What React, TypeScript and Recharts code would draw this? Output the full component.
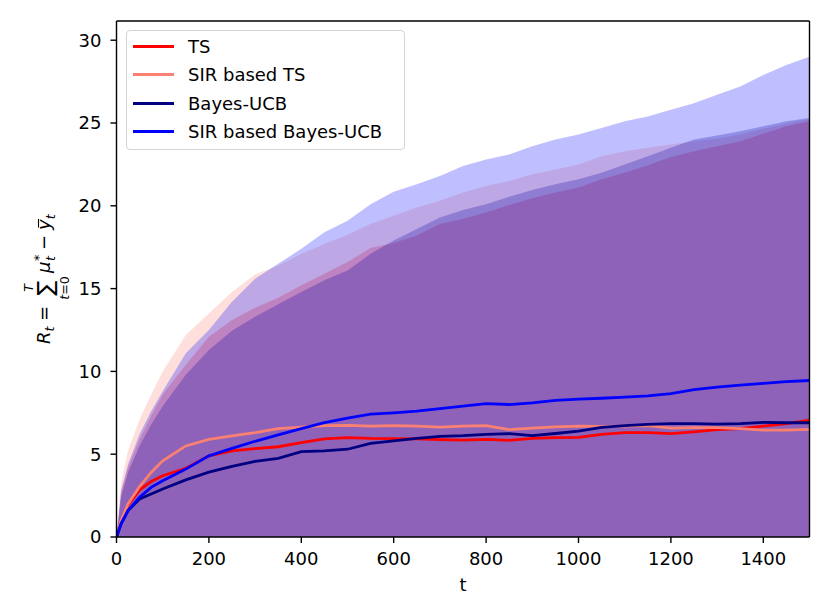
import { ComposedChart, Area, Line, XAxis, YAxis, Legend, ReferenceLine } from "recharts";

// time steps
const T = [
  0, 10, 25, 50, 75, 100, 150, 200, 250, 300, 350, 400, 450, 500, 550, 600, 650,
  700, 750, 800, 850, 900, 950, 1000, 1050, 1100, 1150, 1200, 1250, 1300, 1350,
  1400, 1450, 1500,
];

// mean regret curves
const tsMean = [
  0, 0.9, 1.9, 2.85, 3.35, 3.7, 4.15, 4.9, 5.2, 5.34, 5.45, 5.7, 5.92, 6.0, 5.95,
  5.94, 5.93, 5.88, 5.85, 5.9, 5.84, 5.96, 6.0, 6.02, 6.2, 6.3, 6.3, 6.24, 6.35,
  6.48, 6.55, 6.7, 6.85, 7.05,
];
const sirTsMean = [
  0, 1.0, 2.0, 3.05, 3.9, 4.6, 5.5, 5.9, 6.1, 6.3, 6.55, 6.64, 6.73, 6.74, 6.7,
  6.72, 6.7, 6.64, 6.7, 6.72, 6.48, 6.58, 6.65, 6.7, 6.68, 6.7, 6.72, 6.58, 6.6,
  6.6, 6.55, 6.45, 6.45, 6.5,
];
const bucbMean = [
  0, 0.8, 1.6, 2.3, 2.6, 2.9, 3.45, 3.92, 4.27, 4.57, 4.75, 5.15, 5.2, 5.3, 5.65,
  5.8, 5.95, 6.08, 6.12, 6.2, 6.24, 6.12, 6.25, 6.4, 6.62, 6.72, 6.8, 6.85, 6.85,
  6.82, 6.85, 6.92, 6.9, 6.9,
];
const sirBucbMean = [
  0, 0.8, 1.6, 2.4, 3.0, 3.4, 4.1, 4.9, 5.35, 5.78, 6.17, 6.55, 6.9, 7.18, 7.42,
  7.5, 7.6, 7.75, 7.9, 8.05, 8.0, 8.1, 8.25, 8.32, 8.38, 8.45, 8.52, 8.66, 8.9,
  9.05, 9.17, 9.28, 9.38, 9.45,
];

// upper edge of each shaded band (the lower edge sits below 0)
const tsUpper = [
  0, 2.7, 4.2, 5.9, 7.3, 8.6, 10.4, 12.1, 13.1, 13.85, 14.45, 15.2, 15.9, 16.6,
  17.45, 17.75, 18.2, 18.9, 19.2, 19.6, 20.05, 20.45, 20.8, 21.1, 21.6, 22.0,
  22.45, 22.95, 23.3, 23.6, 23.9, 24.35, 24.8, 25.1,
];
const sirTsUpper = [
  0, 3.3, 5.2, 7.1, 8.6, 10.0, 12.2, 13.5, 14.8, 15.85, 16.4, 17.1, 17.7, 18.25,
  18.9, 19.4, 19.9, 20.3, 20.8, 21.2, 21.5, 21.9, 22.2, 22.5, 23.0, 23.3, 23.5,
  23.7, 23.9, 24.05, 24.3, 24.65, 24.95, 25.25,
];
const bucbUpper = [
  0, 2.4, 3.9, 5.5, 6.8, 7.9, 9.8, 11.3, 12.45, 13.3, 14.05, 14.8, 15.5, 16.1,
  17.1, 17.9, 18.6, 19.3, 19.75, 20.1, 20.55, 20.95, 21.3, 21.6, 22.0, 22.5,
  23.0, 23.5, 24.0, 24.25, 24.5, 24.8, 25.1, 25.3,
];
const sirBucbUpper = [
  0, 2.8, 4.4, 6.2, 7.6, 8.8, 11.1, 12.5, 14.2, 15.6, 16.5, 17.4, 18.4, 19.1,
  20.1, 20.85, 21.3, 21.8, 22.4, 22.8, 23.1, 23.6, 24.0, 24.3, 24.7, 25.1, 25.4,
  25.8, 26.2, 26.7, 27.2, 27.9, 28.5, 29.0,
];

const xTicks = [0, 200, 400, 600, 800, 1000, 1200, 1400];
const yTicks = [0, 5, 10, 15, 20, 25, 30];
const X_MAX = 1500;
const Y_MAX = 31.16;

const SERIES = [
  { key: "ts", name: "TS", color: "#ff0000", mean: tsMean, upper: tsUpper },
  { key: "sirTs", name: "SIR based TS", color: "#fa8072", mean: sirTsMean, upper: sirTsUpper },
  { key: "bucb", name: "Bayes-UCB", color: "#000080", mean: bucbMean, upper: bucbUpper },
  { key: "sirBucb", name: "SIR based Bayes-UCB", color: "#0000ff", mean: sirBucbMean, upper: sirBucbUpper },
];

const data = T.map((t, i) => {
  const row: Record<string, number> = { t };
  SERIES.forEach((s) => {
    row[s.key] = s.mean[i];
    row[s.key + "Hi"] = s.upper[i];
  });
  return row;
});

const FONT = "'DejaVu Sans', sans-serif";

function LegendBox() {
  return (
    <div
      style={{
        boxSizing: "border-box",
        width: 279,
        height: 120,
        border: "1px solid #d4d4d4",
        borderRadius: 4,
        background: "rgba(255,255,255,0.8)",
        paddingTop: 1,
        fontFamily: FONT,
        fontSize: 18,
        color: "#000",
      }}
    >
      {SERIES.map((s) => (
        <div key={s.key} style={{ display: "flex", alignItems: "center", height: 28.5 }}>
          <div style={{ marginLeft: 6, width: 41, height: 2.8, background: s.color }} />
          <span style={{ marginLeft: 14, whiteSpace: "nowrap" }}>{s.name}</span>
        </div>
      ))}
    </div>
  );
}

function Labels() {
  const it = { fontStyle: "italic" as const };
  return (
    <svg
      width={830}
      height={610}
      style={{ position: "absolute", left: 0, top: 0, pointerEvents: "none" }}
      fontFamily={FONT}
      fill="#000"
    >
      <text x={463} y={591} fontSize={18} textAnchor="middle">t</text>
      <g transform="translate(50,279) rotate(-90)">
        <text x={-65} y={0} fontSize={18} {...it}>R</text>
        <text x={-52.5} y={4} fontSize={12.6} {...it}>t</text>
        <text x={-42} y={0} fontSize={18}>=</text>
        <text x={-9} y={3} fontSize={22} textAnchor="middle">∑</text>
        <text x={-9} y={-17} fontSize={12.6} textAnchor="middle" {...it}>T</text>
        <text x={-9} y={19} fontSize={12.6} textAnchor="middle">
          <tspan {...it}>t</tspan>=0
        </text>
        <text x={6} y={0} fontSize={18} {...it}>μ</text>
        <text x={18} y={-7} fontSize={12.6}>*</text>
        <text x={18} y={4.5} fontSize={12.6} {...it}>t</text>
        <text x={29} y={0} fontSize={18}>−</text>
        <text x={49} y={0} fontSize={18} {...it}>y</text>
        <line x1={51.5} x2={60} y1={-11.5} y2={-11.5} stroke="#000" strokeWidth={1.1} />
        <text x={59.7} y={4.5} fontSize={12.6} {...it}>t</text>
      </g>
    </svg>
  );
}

export default function App() {
  const axisLine = { stroke: "#000", strokeWidth: 1.4 };
  const tick = { fontSize: 18, fill: "#000", fontFamily: FONT };
  return (
    <div style={{ position: "absolute", left: 0, top: 0, width: 830, height: 610, background: "#fff" }}>
      <ComposedChart
        width={830}
        height={610}
        data={data}
        margin={{ top: 21, right: 20.5, bottom: 13, left: 0 }}
        style={{ fontFamily: FONT }}
      >
        <XAxis
          dataKey="t"
          type="number"
          domain={[0, X_MAX]}
          ticks={xTicks}
          allowDataOverflow
          height={60}
          tick={tick}
          tickSize={6}
          tickMargin={9}
          axisLine={axisLine}
          tickLine={axisLine}
        />
        <YAxis
          type="number"
          domain={[0, Y_MAX]}
          ticks={yTicks}
          allowDataOverflow
          width={116.5}
          tick={tick}
          tickSize={6}
          tickMargin={9}
          axisLine={axisLine}
          tickLine={axisLine}
        />
        <Legend
          layout="vertical"
          align="center"
          verticalAlign="middle"
          wrapperStyle={{ left: 126, top: 30, width: 279, height: 120 }}
          content={() => <LegendBox />}
        />
        {SERIES.map((s) => (
          <Area
            key={s.key + "Hi"}
            dataKey={s.key + "Hi"}
            type="linear"
            stroke="none"
            fill={s.color}
            fillOpacity={0.25}
            legendType="none"
            isAnimationActive={false}
          />
        ))}
        {SERIES.map((s) => (
          <Line
            key={s.key}
            dataKey={s.key}
            name={s.name}
            type="linear"
            stroke={s.color}
            strokeWidth={2.8}
            dot={false}
            isAnimationActive={false}
          />
        ))}
        <ReferenceLine y={Y_MAX} stroke="#000" strokeWidth={1.4} ifOverflow="visible" />
        <ReferenceLine x={X_MAX} stroke="#000" strokeWidth={1.4} ifOverflow="visible" />
      </ComposedChart>
      <Labels />
    </div>
  );
}
